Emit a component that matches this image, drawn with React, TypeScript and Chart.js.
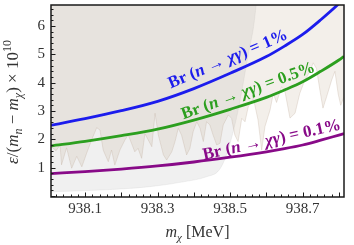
import React, { useEffect, useRef } from "react";
import { Chart, registerables } from "chart.js";

Chart.register(...registerables);

// ---- data ----
const curveX = [938.006, 938.1, 938.2, 938.3, 938.4, 938.5, 938.6, 938.65, 938.7, 938.75, 938.8, 938.814];
const br1 = [2.5, 2.73, 3.01, 3.34, 3.79, 4.33, 4.92, 5.29, 5.7, 6.22, 6.79, 6.97];
const br05 = [1.77, 1.93, 2.13, 2.36, 2.68, 3.06, 3.48, 3.74, 4.03, 4.4, 4.8, 4.93];
const br01 = [0.79, 0.86, 0.95, 1.06, 1.2, 1.37, 1.56, 1.67, 1.8, 1.97, 2.15, 2.2];

const jaggedX = [
  938.006, 938.02, 938.031, 938.035, 938.049, 938.063, 938.077, 938.091, 938.104, 938.118,
  938.132, 938.141, 938.15, 938.164, 938.173, 938.182, 938.196, 938.21, 938.219, 938.228,
  938.237, 938.246, 938.256, 938.265, 938.284, 938.293, 938.302, 938.316, 938.325, 938.339,
  938.348, 938.357, 938.366, 938.38, 938.389, 938.398, 938.408, 938.417, 938.426, 938.435,
  938.444, 938.453, 938.463, 938.472, 938.481, 938.495, 938.504, 938.513, 938.522, 938.532,
  938.541, 938.55, 938.564, 938.577, 938.587, 938.596, 938.61, 938.619, 938.628, 938.642,
  938.651, 938.665, 938.679, 938.692, 938.706, 938.72, 938.729, 938.738, 938.748, 938.756,
  938.766, 938.78, 938.789, 938.798, 938.805, 938.814,
];
const jaggedY = [
  1.75, 1.6, 1.8, 1.1, 1.7, 0.98, 1.4, 1.03, 1.5, 1.98,
  2.41, 2.33, 1.62, 1.21, 1.62, 1.09, 1.62, 1.98, 2.15, 1.86,
  1.56, 1.68, 1.33, 2.2, 1.74, 2.92, 2.15, 1.45, 1.27, 1.56,
  1.92, 2.39, 2.15, 1.45, 1.68, 2.27, 2.62, 2.39, 1.92, 2.62,
  2.51, 2.15, 1.8, 1.86, 2.51, 2.86, 2.74, 2.15, 1.92, 2.74,
  2.62, 3.15, 3.45, 2.68, 1.62, 2.45, 3.03, 3.62, 3.3, 3.86,
  3.7, 2.75, 2.92, 3.62, 4.09, 4.39, 4.7, 4.5, 3.7, 3.1,
  3.5, 4.09, 4.4, 3.6, 3.2, 3.5,
];

const greyX = [938.006, 938.141, 938.279, 938.371, 938.435, 938.47, 938.49, 938.505, 938.52, 938.535, 938.55, 938.565, 938.572];
const greyY = [0.15, 0.21, 0.33, 0.5, 0.68, 0.92, 1.45, 2.1, 2.9, 3.9, 5.0, 6.0, 6.75];

const xTicks = [938.1, 938.3, 938.5, 938.7];
const yTicks = [1, 2, 3, 4, 5, 6];
const xRange = [938.006, 938.814];
const yRange = [-0.035, 6.74];

const curveLabels = ["1%", "0.5%", "0.1%"];

// ---- styling ----
const BLUE = "#1c1ced";
const GREEN = "#2c9f1f";
const PURPLE = "#880a88";
const FAMILY = "'Liberation Serif', 'DejaVu Serif', serif";
const TXT = "#333333";

type Seg = { t: string; it?: boolean; b?: boolean; sc?: number; dy?: number };

function drawRich(ctx: CanvasRenderingContext2D, segs: Seg[], cx: number, cy: number, angle: number, size: number, color: string) {
  const fontOf = (s: Seg) => `${s.it ? "italic" : "normal"} ${s.b ? "bold" : "normal"} ${Math.round(size * (s.sc || 1))}px ${FAMILY}`;
  ctx.save();
  ctx.translate(cx, cy);
  ctx.rotate(angle);
  let total = 0;
  for (const s of segs) {
    ctx.font = fontOf(s);
    total += ctx.measureText(s.t).width;
  }
  let xx = -total / 2;
  ctx.fillStyle = color;
  ctx.textBaseline = "middle";
  ctx.textAlign = "left";
  for (const s of segs) {
    ctx.font = fontOf(s);
    ctx.fillText(s.t, xx, (s.dy || 0) * size);
    xx += ctx.measureText(s.t).width;
  }
  ctx.restore();
}

function brSegs(v: string): Seg[] {
  return [
    { t: "Br (", b: true },
    { t: "n", b: true, it: true },
    { t: " → ", b: true },
    { t: "χγ", b: true, it: true },
    { t: ") = " + v, b: true },
  ];
}

const decor = {
  id: "decor",
  afterDatasetsDraw(chart: any) {
    const { ctx, scales } = chart;
    const x = scales.x, y = scales.y;
    const deg = Math.PI / 180;
    drawRich(ctx, brSegs(curveLabels[0]), x.getPixelForValue(938.494), y.getPixelForValue(4.82), -23 * deg, 17, BLUE);
    drawRich(ctx, brSegs(curveLabels[1]), x.getPixelForValue(938.55), y.getPixelForValue(3.7), -20 * deg, 17, GREEN);
    drawRich(ctx, brSegs(curveLabels[2]), x.getPixelForValue(938.615), y.getPixelForValue(1.97), -12.5 * deg, 17, PURPLE);
  },
  afterDraw(chart: any) {
    const { ctx, chartArea: a, scales } = chart;
    const x = scales.x, y = scales.y;
    ctx.save();
    ctx.strokeStyle = "#1a1a1a";
    ctx.lineWidth = 1;
    ctx.beginPath();
    for (let i = 0; i <= 40; i++) {
      const v = 938.0 + i * 0.02;
      if (v < xRange[0] || v > xRange[1]) continue;
      const px = Math.round(x.getPixelForValue(v)) + 0.5;
      const major = Math.abs(v * 10 - Math.round(v * 10)) < 1e-6;
      ctx.moveTo(px, a.bottom);
      ctx.lineTo(px, a.bottom - (major ? 4.5 : 2.5));
    }
    for (let i = 0; i <= 34; i++) {
      const v = i * 0.2;
      if (v < yRange[0] || v > yRange[1]) continue;
      const py = Math.round(y.getPixelForValue(v)) + 0.5;
      const major = Math.abs(v - Math.round(v)) < 1e-6;
      ctx.moveTo(a.left, py);
      ctx.lineTo(a.left + (major ? 4.5 : 2.5), py);
    }
    ctx.stroke();
    ctx.lineWidth = 1.5;
    ctx.strokeRect(a.left, a.top, a.right - a.left, a.bottom - a.top);
    ctx.fillStyle = TXT;
    ctx.font = `15px ${FAMILY}`;
    ctx.textAlign = "center";
    ctx.textBaseline = "middle";
    for (const v of xTicks) ctx.fillText(v.toFixed(1), x.getPixelForValue(v), a.bottom + 12);
    ctx.textAlign = "right";
    for (const v of yTicks) ctx.fillText(String(v), a.left - 6, y.getPixelForValue(v));
    ctx.restore();
    drawRich(ctx, [{ t: "m", it: true }, { t: "χ", it: true, sc: 0.7, dy: 0.3 }, { t: " [MeV]" }], (a.left + a.right) / 2, 233, 0, 16, TXT);
    drawRich(
      ctx,
      [
        { t: "ε", it: true },
        { t: "/(" },
        { t: "m", it: true },
        { t: "n", it: true, sc: 0.7, dy: 0.3 },
        { t: " − " },
        { t: "m", it: true },
        { t: "χ", it: true, sc: 0.7, dy: 0.3 },
        { t: ") × 10" },
        { t: "10", sc: 0.7, dy: -0.38 },
      ],
      14,
      102,
      -Math.PI / 2,
      17,
      TXT
    );
  },
};

const pts = (xs: number[], ys: number[]) => xs.map((v, i) => ({ x: v, y: ys[i] }));

export default function App() {
  const ref = useRef<HTMLCanvasElement | null>(null);
  useEffect(() => {
    if (!ref.current) return;
    const lineDs = (data: number[], color: string) => ({
      data: pts(curveX, data),
      borderColor: color,
      borderWidth: 2.8,
      fill: false,
      tension: 0.4,
      cubicInterpolationMode: "monotone" as const,
      pointRadius: 0,
    });
    const chart = new Chart(ref.current, {
      type: "line",
      data: {
        datasets: [
          lineDs(br1, BLUE),
          lineDs(br05, GREEN),
          lineDs(br01, PURPLE),
          {
            data: pts(jaggedX, jaggedY),
            borderColor: "rgba(185,165,145,0.35)",
            borderWidth: 0.8,
            backgroundColor: "rgba(195,175,150,0.2)",
            fill: "end",
            tension: 0,
            pointRadius: 0,
          },
          {
            data: pts(greyX, greyY),
            borderColor: "rgba(150,150,150,0.2)",
            borderWidth: 0.6,
            backgroundColor: "rgba(120,120,120,0.11)",
            fill: "end",
            tension: 0.3,
            cubicInterpolationMode: "monotone",
            pointRadius: 0,
          },
        ],
      },
      options: {
        responsive: false,
        animation: false,
        layout: { padding: { left: 51, top: 5, right: 10, bottom: 48 } },
        plugins: { legend: { display: false }, tooltip: { enabled: false } },
        scales: {
          x: { type: "linear", min: xRange[0], max: xRange[1], display: false },
          y: { type: "linear", min: yRange[0], max: yRange[1], display: false },
        },
      },
      plugins: [decor],
    });
    return () => chart.destroy();
  }, []);
  return (
    <div style={{ position: "absolute", left: 0, top: 0, width: 354, height: 245, background: "#fff" }}>
      <canvas ref={ref} width={354} height={245} style={{ display: "block" }} />
    </div>
  );
}
